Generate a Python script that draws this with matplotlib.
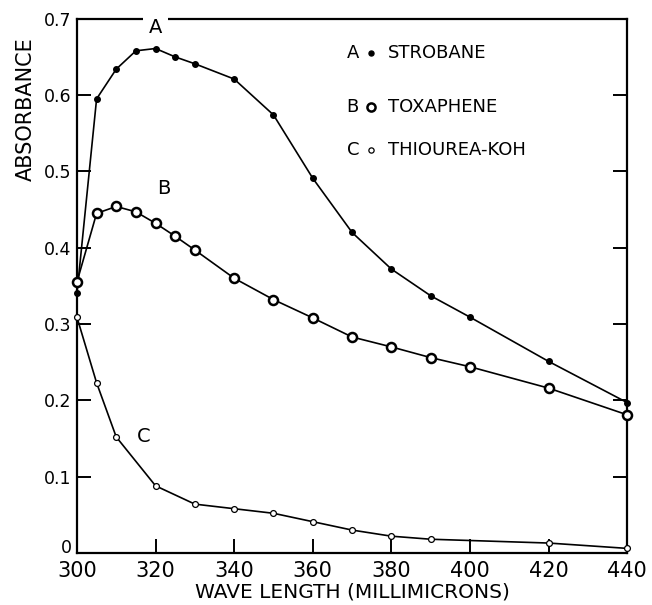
import matplotlib
matplotlib.use('Agg')
import matplotlib.pyplot as plt
import matplotlib.transforms as mtransforms

# wave length, millimicrons
wl_a = [300, 305, 310, 315, 320, 325, 330, 340, 350, 360, 370, 380, 390, 400, 420, 440]
strobane = [0.340, 0.595, 0.634, 0.658, 0.661, 0.650, 0.641, 0.621, 0.574, 0.491,
            0.420, 0.372, 0.337, 0.309, 0.251, 0.197]

wl_b = [300, 305, 310, 315, 320, 325, 330, 340, 350, 360, 370, 380, 390, 400, 420, 440]
toxaphene = [0.355, 0.445, 0.454, 0.447, 0.432, 0.415, 0.397, 0.360, 0.332, 0.308,
             0.283, 0.270, 0.256, 0.244, 0.216, 0.181]

wl_c = [300, 305, 310, 320, 330, 340, 350, 360, 370, 380, 390, 420, 440]
thiourea = [0.309, 0.223, 0.152, 0.088, 0.064, 0.058, 0.052, 0.041, 0.030, 0.022,
            0.018, 0.013, 0.006]

x_ticks = [300, 320, 340, 360, 380, 400, 420, 440]
y_ticks = [0, 0.1, 0.2, 0.3, 0.4, 0.5, 0.6, 0.7]
y_tick_labels = ['0', '0.1', '0.2', '0.3', '0.4', '0.5', '0.6', '0.7']

legend_names = ['STROBANE', 'TOXAPHENE', 'THIOUREA-KOH']
legend_letters = ['A', 'B', 'C']


def main():
    plt.rcParams['font.family'] = ['DejaVu Sans']

    fig = plt.figure(figsize=(6.52, 6.05), dpi=100)
    ax = fig.add_axes([0.118, 0.086, 0.844, 0.883])

    line_kw = dict(color='black', linewidth=1.2, zorder=3, clip_on=False)
    styles = [
        dict(marker='o', markersize=4, markerfacecolor='black', markeredgecolor='black'),
        dict(marker='o', markersize=6.5, markerfacecolor='white', markeredgecolor='black',
             markeredgewidth=1.8),
        dict(marker='o', markersize=4.2, markerfacecolor='white', markeredgecolor='black',
             markeredgewidth=0.9),
    ]

    ax.plot(wl_a, strobane, **line_kw, **styles[0])
    ax.plot(wl_b, toxaphene, **line_kw, **styles[1])
    ax.plot(wl_c, thiourea, **line_kw, **styles[2])

    ax.set_xlim(300, 440)
    ax.set_ylim(0, 0.7)
    for side in ['left', 'right', 'top', 'bottom']:
        ax.spines[side].set_linewidth(1.6)

    ax.set_xticks(x_ticks)
    ax.set_yticks(y_ticks)
    ax.set_yticklabels(y_tick_labels)
    ax.tick_params(axis='x', direction='in', length=10, width=1.4,
                   labelsize=15, pad=6)
    ax.tick_params(axis='y', direction='in', length=10, width=1.4,
                   labelsize=12.5, pad=4, right=True)

    # the "0" sits a little higher so it clears the 300 below it
    zero_label = ax.get_yticklabels()[0]
    zero_label.set_transform(zero_label.get_transform() +
                             mtransforms.ScaledTranslation(0, 5 / 72, fig.dpi_scale_trans))

    ax.set_xlabel('WAVE LENGTH (MILLIMICRONS)', fontsize=14.5, labelpad=1)
    ax.set_ylabel('ABSORBANCE', fontsize=15, labelpad=6)
    ax.yaxis.set_label_coords(-0.075, 0.83)

    # curve labels
    ax.text(320, 0.688, 'A', fontsize=14, ha='center', va='center', zorder=4,
            clip_on=False, bbox=dict(facecolor='white', edgecolor='none', pad=4))
    ax.text(322, 0.477, 'B', fontsize=14, ha='center', va='center')
    ax.text(317, 0.152, 'C', fontsize=14, ha='center', va='center')

    # hand drawn key
    key_y = [0.935, 0.835, 0.755]
    for i in range(3):
        ax.text(0.49, key_y[i], legend_letters[i], transform=ax.transAxes,
                fontsize=13, ha='left', va='center')
        st = dict(styles[i])
        st['markersize'] = st['markersize'] * 0.9
        ax.plot([0.535], [key_y[i]], transform=ax.transAxes, linestyle='none',
                clip_on=False, **st)
        ax.text(0.565, key_y[i], legend_names[i], transform=ax.transAxes,
                fontsize=13, ha='left', va='center')

    fig.savefig('out.png', dpi=100)


main()
